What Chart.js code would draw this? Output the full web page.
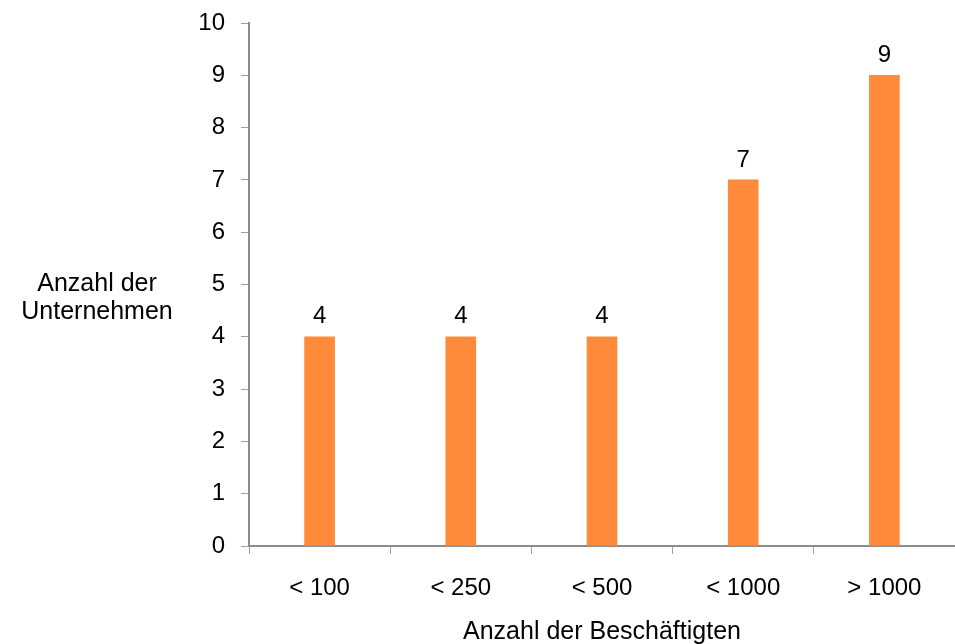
<!DOCTYPE html>
<html>
<head>
<meta charset="utf-8">
<script src="https://cdn.jsdelivr.net/npm/chart.js@4"></script>
<style>
  html, body { margin: 0; padding: 0; background: #fff; }
  #wrap { width: 955px; height: 644px; }
</style>
</head>
<body>
<div id="wrap"><canvas id="chart"></canvas></div>
<script>
const categories = ["< 100", "< 250", "< 500", "< 1000", "> 1000"];
const companies = [4, 4, 4, 7, 9];
const yTitle = ["Anzahl der", "Unternehmen"];
const xTitle = "Anzahl der Beschäftigten";

const FONT = "'Liberation Sans', Arial, sans-serif";
const SIZE = 24;

/* bar value labels + horizontal titles */
const labelsPlugin = {
  id: "labels",
  afterDatasetsDraw(chart) {
    const ctx = chart.ctx;
    ctx.save();
    ctx.fillStyle = "#000";
    ctx.font = SIZE + "px " + FONT;
    ctx.textAlign = "center";
    ctx.textBaseline = "bottom";
    chart.getDatasetMeta(0).data.forEach((bar, i) => {
      ctx.fillText(companies[i], bar.x, bar.y - 8);
    });

    ctx.font = "25px " + FONT;
    const y = chart.scales.y;
    const mid = (y.top + y.bottom) / 2;
    ctx.textBaseline = "middle";
    ctx.fillText(yTitle[0], 97, mid);
    ctx.fillText(yTitle[1], 97, mid + 28);

    const a = chart.chartArea;
    ctx.fillText(xTitle, (a.left + a.right) / 2, 632);
    ctx.restore();
  }
};

new Chart(document.getElementById("chart"), {
  type: "bar",
  data: {
    labels: categories,
    datasets: [{
      data: companies,
      backgroundColor: "#FF8A3A",
      barThickness: 30
    }]
  },
  options: {
    responsive: true,
    maintainAspectRatio: false,
    animation: false,
    layout: { padding: { top: 23, right: 0, left: 0, bottom: 0 } },
    plugins: { legend: { display: false }, tooltip: { enabled: false } },
    scales: {
      x: {
        afterFit(s) { s.height = 98; s.paddingLeft = 0; s.paddingRight = 0; },
        border: { color: "#8c8c8c", width: 2 },
        grid: { offset: true, drawOnChartArea: false, tickLength: 8, color: "#a0a0a0" },
        ticks: { color: "#000", font: { family: FONT, size: SIZE }, padding: 20 }
      },
      y: {
        min: 0,
        max: 10,
        afterFit(s) { s.width = 249; s.paddingTop = 0; s.paddingBottom = 0; },
        border: { color: "#8c8c8c", width: 2 },
        grid: { drawOnChartArea: false, tickLength: 8, color: "#a0a0a0" },
        ticks: { stepSize: 1, color: "#000", font: { family: FONT, size: SIZE }, padding: 16 }
      }
    }
  },
  plugins: [labelsPlugin]
});
</script>
</body>
</html>
